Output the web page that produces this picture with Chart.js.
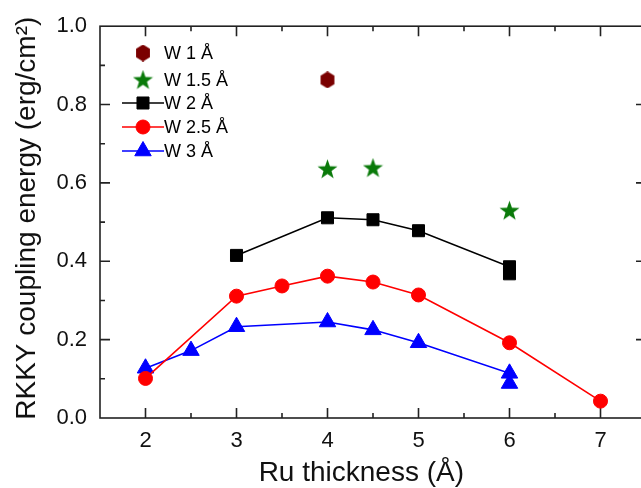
<!DOCTYPE html>
<html>
<head>
<meta charset="utf-8">
<script src="https://cdn.jsdelivr.net/npm/chart.js@4.4.1/dist/chart.umd.min.js"></script>
<style>
  html, body { margin: 0; padding: 0; background: #fff; overflow: hidden; }
</style>
</head>
<body>
<canvas id="chart" width="660" height="488"></canvas>
<script>
// Ru thickness (Å) and RKKY coupling energy (erg/cm2) for each W thickness
var w1x = [4];
var w1y = [0.863];
var w15x = [4, 4.5, 6];
var w15y = [0.635, 0.638, 0.529];
var w2x = [3, 4, 4.5, 5, 6, 6];
var w2y = [0.415, 0.511, 0.506, 0.478, 0.386, 0.368];
var w25x = [2, 3, 3.5, 4, 4.5, 5, 6, 7];
var w25y = [0.101, 0.311, 0.337, 0.362, 0.347, 0.314, 0.192, 0.043];
var w3x = [2, 2.5, 3, 4, 4.5, 5, 6, 6];
var w3y = [0.127, 0.172, 0.233, 0.245, 0.225, 0.192, 0.114, 0.088];

var seriesNames = ["W 1 Å", "W 1.5 Å", "W 2 Å", "W 2.5 Å", "W 3 Å"];
var xTicks = [2, 3, 4, 5, 6, 7];
var yTicks = [0, 0.2, 0.4, 0.6, 0.8, 1.0];

function pts(xs, ys) {
    return xs.map(function (x, i) { return {x: x, y: ys[i]}; });
}

// hexagon and star markers
function hexagon(color) {
    var c = document.createElement('canvas');
    c.width = 16; c.height = 17;
    var g = c.getContext('2d');
    g.fillStyle = color;
    g.beginPath();
    for (var i = 0; i < 6; i++) {
        var a = Math.PI / 3 * i - Math.PI / 2;
        var px = 8 + 8 * Math.cos(a), py = 8.5 + 8.5 * Math.sin(a);
        if (i == 0) g.moveTo(px, py); else g.lineTo(px, py);
    }
    g.closePath();
    g.fill();
    return c;
}
function star(color) {
    var c = document.createElement('canvas');
    c.width = 21; c.height = 21;
    var g = c.getContext('2d');
    g.fillStyle = color;
    g.beginPath();
    for (var i = 0; i < 10; i++) {
        var r = i % 2 == 0 ? 10.5 : 4.2;
        var a = Math.PI / 5 * i - Math.PI / 2;
        var px = 10.5 + r * Math.cos(a), py = 11 + r * Math.sin(a);
        if (i == 0) g.moveTo(px, py); else g.lineTo(px, py);
    }
    g.closePath();
    g.fill();
    return c;
}

var hexImg = hexagon('#7a0000');
var starImg = star('#0a7a0a');

// frame, inward ticks and legend
var framePlugin = {
    id: 'frame',
    beforeDatasetsDraw: function (chart) {
        var ctx = chart.ctx, a = chart.chartArea;
        var xs = chart.scales.x, ys = chart.scales.y;
        ctx.save();
        ctx.strokeStyle = '#222';
        ctx.lineWidth = 1.6;
        ctx.strokeRect(a.left, a.top, a.right - a.left, a.bottom - a.top);
        ctx.beginPath();
        for (var v = 2; v <= 7.01; v += 0.5) {
            var px = xs.getPixelForValue(v);
            var len = (Math.abs(v - Math.round(v)) < 0.01) ? 10 : 5;
            ctx.moveTo(px, a.bottom); ctx.lineTo(px, a.bottom - len);
            ctx.moveTo(px, a.top); ctx.lineTo(px, a.top + len);
        }
        for (var k = 1; k < 10; k++) {
            var py = ys.getPixelForValue(k / 10);
            var l2 = (k % 2 == 0) ? 10 : 5;
            ctx.moveTo(a.left, py); ctx.lineTo(a.left + l2, py);
            ctx.moveTo(a.right, py); ctx.lineTo(a.right - l2, py);
        }
        ctx.stroke();
        ctx.restore();
    },
    afterDraw: function (chart) {
        var ctx = chart.ctx;
        var rows = [53, 80, 103, 127, 151];
        ctx.save();
        ctx.font = '18px "Liberation Sans", Arial, sans-serif';
        ctx.textBaseline = 'middle';
        chart.data.datasets.forEach(function (ds, i) {
            var y = rows[i];
            if (ds.showLine !== false) {
                ctx.strokeStyle = ds.borderColor;
                ctx.lineWidth = 1.6;
                ctx.beginPath();
                ctx.moveTo(122, y); ctx.lineTo(164, y);
                ctx.stroke();
            }
            ctx.fillStyle = ds.pointBackgroundColor;
            ctx.strokeStyle = ds.pointBorderColor;
            ctx.lineWidth = 1;
            Chart.helpers.drawPoint(ctx, {pointStyle: ds.pointStyle, radius: ds.pointRadius, rotation: 0, borderWidth: 1}, 143, y);
            ctx.fillStyle = '#000';
            ctx.fillText(ds.label, 164, y + 1);
        });
        ctx.restore();
    }
};

new Chart(document.getElementById("chart"), {
    type: 'scatter',
    data: {
        datasets: [
            {
                label: seriesNames[0],
                data: pts(w1x, w1y),
                showLine: false,
                borderColor: '#7a0000',
                pointBackgroundColor: '#7a0000',
                pointBorderColor: '#7a0000',
                pointStyle: hexImg,
                pointRadius: 8
            },
            {
                label: seriesNames[1],
                data: pts(w15x, w15y),
                showLine: false,
                borderColor: '#0a7a0a',
                pointBackgroundColor: '#0a7a0a',
                pointBorderColor: '#0a7a0a',
                pointStyle: starImg,
                pointRadius: 10
            },
            {
                label: seriesNames[2],
                data: pts(w2x, w2y),
                showLine: true,
                borderColor: '#000',
                borderWidth: 1.6,
                pointBackgroundColor: '#000',
                pointBorderColor: '#000',
                pointBorderWidth: 1,
                pointStyle: 'rect',
                pointRadius: 8.5
            },
            {
                label: seriesNames[3],
                data: pts(w25x, w25y),
                showLine: true,
                borderColor: '#ff0000',
                borderWidth: 1.6,
                pointBackgroundColor: '#ff0000',
                pointBorderColor: '#ff0000',
                pointBorderWidth: 1,
                pointStyle: 'circle',
                pointRadius: 7
            },
            {
                label: seriesNames[4],
                data: pts(w3x, w3y),
                showLine: true,
                borderColor: '#0000ff',
                borderWidth: 1.6,
                pointBackgroundColor: '#0000ff',
                pointBorderColor: '#0000ff',
                pointBorderWidth: 1,
                pointStyle: 'triangle',
                pointRadius: 9.5
            }
        ]
    },
    options: {
        responsive: false,
        animation: false,
        layout: { padding: {top: 23, right: 14, left: 0, bottom: 0} },
        plugins: {
            legend: { display: false },
            tooltip: { enabled: false }
        },
        scales: {
            x: {
                type: 'linear',
                min: 1.5,
                max: 7.5,
                afterFit: function (s) { s.height = 70; },
                afterBuildTicks: function (s) { s.ticks = xTicks.map(function (v) { return {value: v}; }); },
                grid: { display: false, drawTicks: false },
                border: { display: false },
                ticks: {
                    color: '#111',
                    padding: 10,
                    maxRotation: 0,
                    font: { family: '"Liberation Sans", Arial, sans-serif', size: 22 },
                    callback: function (v) { return v; }
                },
                title: {
                    display: true,
                    text: 'Ru thickness (Å)\u00a0\u00a0\u00a0',
                    color: '#111',
                    padding: {top: 0, bottom: 1},
                    font: { family: '"Liberation Sans", Arial, sans-serif', size: 28, lineHeight: 1 }
                }
            },
            y: {
                min: 0,
                max: 1,
                afterFit: function (s) { s.width = 100; },
                afterBuildTicks: function (s) { s.ticks = yTicks.map(function (v) { return {value: v}; }); },
                grid: { display: false, drawTicks: false },
                border: { display: false },
                ticks: {
                    color: '#111',
                    padding: 13,
                    font: { family: '"Liberation Sans", Arial, sans-serif', size: 22 },
                    callback: function (v) { return v.toFixed(1); }
                },
                title: {
                    display: true,
                    text: '\u00a0RKKY coupling energy (erg/cm²)',
                    color: '#111',
                    padding: {top: 13, bottom: 0},
                    font: { family: '"Liberation Sans", Arial, sans-serif', size: 28, lineHeight: 1 }
                }
            }
        }
    },
    plugins: [framePlugin]
});
</script>
</body>
</html>
